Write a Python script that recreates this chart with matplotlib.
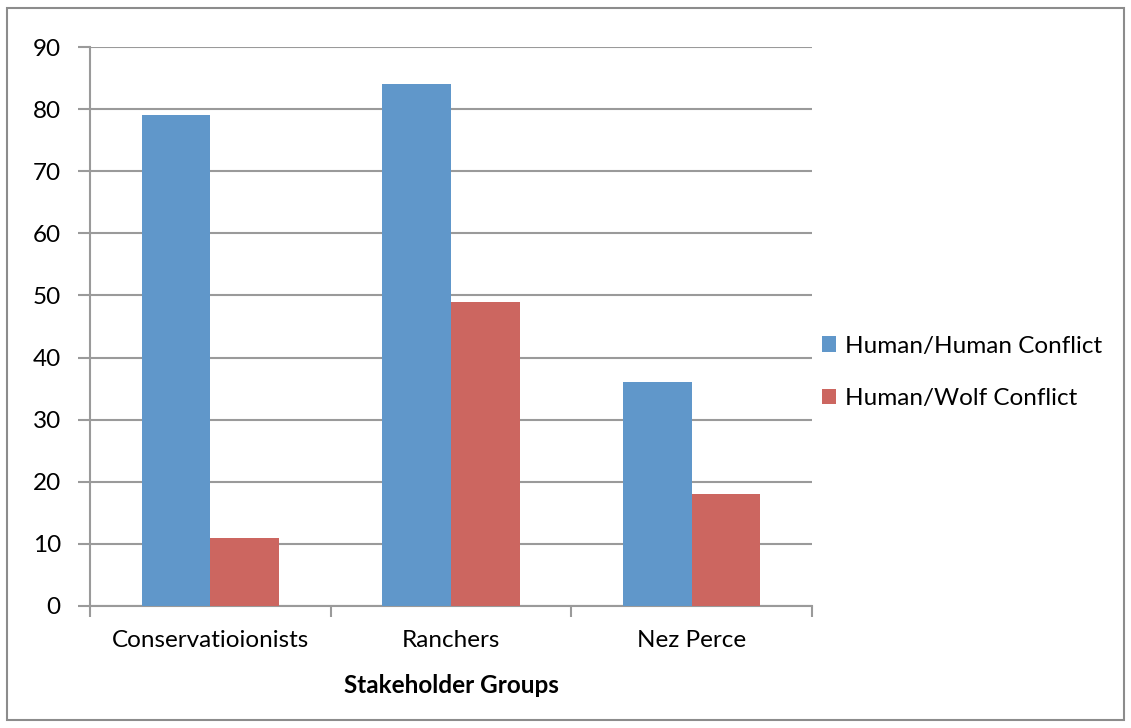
import matplotlib
matplotlib.use("Agg")
import matplotlib.pyplot as plt
import numpy as np
from matplotlib.patches import Rectangle

categories = ["Conservatioionists", "Ranchers", "Nez Perce"]
human_human = [79, 84, 36]
human_wolf = [11, 49, 18]
series_names = ["Human/Human Conflict", "Human/Wolf Conflict"]
yticks = [0, 10, 20, 30, 40, 50, 60, 70, 80, 90]

plt.rcParams['font.family'] = ['Lato', 'DejaVu Sans']

W, H = 1131, 728
fig = plt.figure(figsize=(W / 100, H / 100), dpi=100)
ax = fig.add_axes([90 / W, 1 - 606 / H, (812 - 90) / W, (606 - 47) / H])

blue = "#6097CA"
red = "#CC6660"
grid = "#9A9A9A"
FS = 17.5

x = np.arange(len(categories))
bw = 1 / 3.5
ax.bar(x - bw / 2, human_human, bw, color=blue, label=series_names[0], zorder=3)
ax.bar(x + bw / 2, human_wolf, bw, color=red, label=series_names[1], zorder=3)

ax.set_xlim(-0.5, len(categories) - 0.5)
ax.set_ylim(0, 90)
ax.set_yticks(yticks)
ax.yaxis.grid(True, color=grid, linewidth=1.5, zorder=0)
ax.set_axisbelow(True)

for s in ["top", "right"]:
    ax.spines[s].set_visible(False)
for s in ["left", "bottom"]:
    ax.spines[s].set_color(grid)
    ax.spines[s].set_linewidth(1.5)

ax.tick_params(axis="y", length=9, width=1.5, color=grid, labelsize=FS, pad=12)
ax.set_xticks(np.arange(-0.5, len(categories), 1.0))
ax.set_xticklabels([])
ax.set_xticks(x, minor=True)
ax.set_xticklabels(categories, minor=True, fontsize=FS)
ax.tick_params(axis="x", which="major", length=8, width=1.5, color=grid, direction="out")
ax.tick_params(axis="x", which="minor", length=0, pad=17)

ax.set_xlabel("Stakeholder Groups", fontsize=FS, fontweight="bold", labelpad=17)

leg = ax.legend(loc="center left", bbox_to_anchor=(1.0, 0.418), frameon=False,
                fontsize=FS, handlelength=0.6, handleheight=0.6, labelspacing=1.3,
                handletextpad=0.35, borderaxespad=0.0)

fig.patches.append(Rectangle((7 / W, 8 / H), (1124 - 7) / W, (720 - 8) / H,
                             transform=fig.transFigure, fill=False,
                             edgecolor="#8C8C8C", linewidth=1.5))

fig.savefig("out.png", dpi=100)
